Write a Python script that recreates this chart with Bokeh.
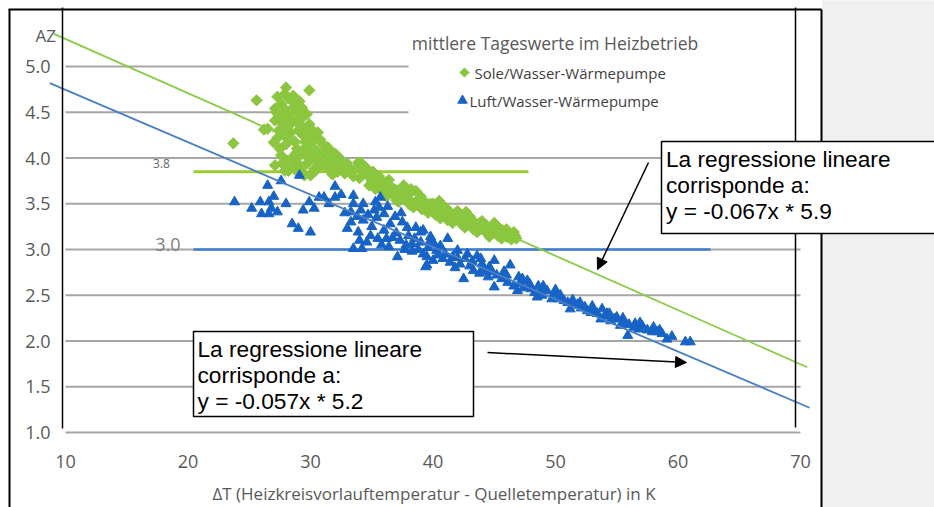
from bokeh.plotting import figure
from bokeh.models import Range1d, Arrow, NormalHead
from bokeh.core.properties import value
from bokeh.embed import file_html
from bokeh.resources import INLINE

# ---------------- data ----------------
x_ticks = [10, 20, 30, 40, 50, 60, 70]
y_ticks = [1.0, 1.5, 2.0, 2.5, 3.0, 3.5, 4.0, 4.5, 5.0]
y_tick_labels = ["1.0", "1.5", "2.0", "2.5", "3.0", "3.5", "4.0", "4.5", "5.0"]

# Sole/Wasser-Waermepumpe (green diamonds)
sole_x = [23.7, 25.6, 28.0, 29.9, 27.3, 28.2, 27.6, 27.1, 28.5, 28.9, 27.4, 28.1, 29.4, 27.8,
          28.5, 29.2, 29.9, 27.1, 26.5, 26.2, 27.0, 27.8, 28.4, 29.3, 30.4, 30.0, 28.9, 27.6,
          28.1, 28.9, 29.7, 30.5, 31.4, 30.8, 31.9, 32.3, 33.0, 33.9, 30.0, 31.6, 27.7, 27.1,
          29.2, 29.5, 28.4, 29.6, 28.7, 29.0, 28.3, 29.6, 27.5, 28.8, 30.2, 31.0, 30.6, 31.2,
          32.0, 32.6, 33.4, 28.6, 27.9, 30.4, 31.8, 32.8, 29.3, 28.0, 27.4, 30.6, 29.5, 31.0,
          32.0, 34.1, 33.5, 34.4, 34.0,
          27.9, 28.6, 29.1, 27.2, 28.0, 29.7, 28.3, 27.7, 28.8, 29.6, 30.2, 27.3, 28.0, 28.7,
          29.9, 30.8, 31.4, 29.1, 30.0, 31.6, 32.5, 30.3, 31.3, 32.2, 33.0, 33.8, 34.5, 29.0,
          28.2,
          34.6, 35.0, 35.2, 35.4, 35.7, 35.9, 36.3, 36.6, 36.8, 37.1, 37.3, 37.5, 37.8, 38.0,
          38.2, 38.6, 38.8, 39.0, 39.3, 39.5, 39.8, 40.0, 40.3, 40.5, 40.8, 41.0, 41.3, 41.6,
          41.9, 42.2, 42.4, 42.7, 42.9, 43.2, 43.5, 43.8, 44.0, 44.3, 44.6, 44.9, 45.2, 45.4,
          45.7, 46.0, 46.3, 46.6, 46.8, 36.0, 37.0, 38.4, 39.6, 40.6, 41.6, 42.6, 43.6, 44.6,
          45.6, 34.8, 35.6, 36.4, 37.6, 38.2, 39.0, 40.0, 41.0, 42.0, 43.0, 44.0, 45.0, 46.0,
          35.3, 36.2, 37.2, 38.1, 39.1, 40.2, 41.2, 42.3, 43.3, 44.4, 45.3, 46.4,
          35.1, 35.8, 36.5, 37.3, 38.0, 38.7, 39.4, 40.1, 40.9, 41.5, 42.1, 42.8, 43.4, 44.1,
          44.8, 45.5, 46.2, 46.7]
sole_y = [4.16, 4.63, 4.77, 4.74, 4.67, 4.65, 4.59, 4.54, 4.54, 4.50, 4.45, 4.43, 4.45, 4.47,
          4.39, 4.36, 4.37, 4.41, 4.32, 4.31, 4.17, 4.25, 4.28, 4.26, 4.21, 4.14, 4.10, 4.03,
          3.97, 3.95, 3.94, 4.08, 4.01, 3.92, 3.95, 4.01, 3.94, 3.95, 3.81, 3.86, 3.94, 3.92,
          3.88, 3.81, 3.99, 4.03, 4.60, 4.30, 4.20, 4.18, 4.10, 4.05, 4.00, 4.05, 3.97, 3.90,
          3.88, 3.90, 3.86, 3.90, 3.86, 3.86, 3.82, 3.83, 4.55, 4.35, 4.30, 4.28, 4.10, 4.15,
          4.05, 3.95, 3.80, 3.85, 3.78,
          4.70, 4.68, 4.62, 4.50, 4.52, 4.48, 4.47, 4.38, 4.40, 4.30, 4.30, 4.22, 4.15, 4.18,
          4.22, 4.20, 4.12, 4.02, 4.05, 4.08, 3.96, 3.88, 3.95, 3.85, 3.88, 3.90, 3.90, 3.84,
          3.86,
          3.82, 3.75, 3.78, 3.70, 3.66, 3.74, 3.70, 3.62, 3.66, 3.61, 3.58, 3.66, 3.55, 3.60,
          3.52, 3.64, 3.55, 3.48, 3.52, 3.45, 3.50, 3.42, 3.46, 3.53, 3.40, 3.36, 3.42, 3.35,
          3.38, 3.31, 3.36, 3.41, 3.28, 3.32, 3.25, 3.29, 3.22, 3.27, 3.20, 3.24, 3.26, 3.17,
          3.21, 3.14, 3.17, 3.19, 3.12, 3.62, 3.54, 3.46, 3.40, 3.34, 3.29, 3.24, 3.19, 3.14,
          3.12, 3.70, 3.80, 3.76, 3.70, 3.66, 3.58, 3.50, 3.46, 3.42, 3.36, 3.31, 3.29, 3.22,
          3.66, 3.58, 3.52, 3.49, 3.44, 3.38, 3.32, 3.28, 3.22, 3.18, 3.15, 3.11,
          3.85, 3.71, 3.69, 3.64, 3.55, 3.50, 3.47, 3.45, 3.37, 3.39, 3.35, 3.31, 3.29, 3.25,
          3.21, 3.22, 3.13, 3.15]

# Luft/Wasser-Waermepumpe (blue triangles)
luft_x = [23.8, 25.9, 26.6, 26.5, 27.6, 29.1, 26.0, 26.6, 27.3, 29.4, 29.9, 30.7, 31.1, 32.0,
          32.0, 28.5, 29.0, 30.0, 33.5, 33.5, 34.3, 33.3, 34.1, 35.2, 35.7, 35.6, 33.3, 34.3,
          35.4, 36.0, 33.0, 33.9, 34.9, 36.0, 36.7, 37.5, 37.9, 38.6, 39.2, 37.3, 38.3, 39.0,
          39.8, 33.5, 34.2, 36.4, 37.7, 37.1, 38.3, 39.5, 39.4, 40.3,
          35.0, 36.5, 34.6, 35.8, 37.0, 38.0, 38.8, 36.9, 39.0, 39.8, 40.6, 41.2, 40.0,
          25.2, 26.8, 27.0, 28.0, 30.3, 31.5, 32.5, 32.8, 33.8, 34.7, 35.3, 36.3, 36.2, 37.4,
          37.8, 38.5, 39.6, 40.1, 34.0, 35.5,
          39.2, 39.5, 42.0, 42.8, 43.6, 45.0, 46.3, 42.5, 43.3, 44.1, 45.2, 46.1, 47.1, 47.7,
          48.8, 49.9, 49.7, 50.7, 51.5, 52.6, 53.4, 53.7, 54.5, 55.3, 56.4, 55.9, 57.5, 58.3,
          59.1, 60.6, 61.0, 48.0, 45.0, 46.9, 48.5, 51.2,
          40.8, 41.4, 41.8, 42.2, 43.0, 43.8, 44.5, 44.8, 45.6, 46.0, 46.6, 47.4, 47.9, 48.3,
          48.9, 49.3, 50.2, 50.4, 51.0, 51.8, 52.1, 52.9, 53.1, 54.0, 54.2, 54.8, 55.6, 56.0,
          56.8, 57.1, 57.9, 58.7, 59.5, 42.0, 43.2, 44.0, 44.6, 41.0, 40.4, 47.0, 49.0, 50.0,
          52.0, 53.0, 54.4, 55.0, 56.5, 58.0,
          41.6, 42.6, 43.9, 44.2, 45.8, 47.3, 48.6, 50.1, 51.4, 52.4, 53.8, 55.5, 56.9, 58.5]
luft_y = [3.52, 3.52, 3.52, 3.70, 3.75, 3.81, 3.39, 3.39, 3.41, 3.43, 3.52, 3.57, 3.57, 3.69,
          3.57, 3.28, 3.23, 3.19, 3.59, 3.50, 3.50, 3.41, 3.43, 3.43, 3.57, 3.46, 3.30, 3.32,
          3.35, 3.39, 3.23, 3.19, 3.15, 3.21, 3.13, 3.30, 3.24, 3.24, 3.21, 3.10, 3.06, 3.08,
          3.10, 3.01, 3.01, 3.03, 3.00, 2.92, 2.98, 2.92, 2.81, 2.99,
          3.25, 3.28, 3.08, 3.05, 3.18, 3.15, 3.00, 3.36, 3.19, 3.14, 3.04, 3.12, 2.88,
          3.45, 3.45, 3.58, 3.50, 3.45, 3.50, 3.60, 3.40, 3.36, 3.38, 3.52, 3.47, 3.12, 3.40,
          3.05, 3.12, 3.02, 3.06, 3.10, 3.12,
          2.95, 2.83, 2.99, 2.95, 2.93, 2.88, 2.83, 2.68, 2.77, 2.79, 2.72, 2.64, 2.63, 2.66,
          2.55, 2.52, 2.46, 2.44, 2.39, 2.33, 2.30, 2.24, 2.22, 2.17, 2.15, 2.06, 2.12, 2.10,
          2.02, 1.99, 1.99, 2.57, 2.59, 2.55, 2.48, 2.35,
          2.90, 2.86, 2.80, 2.84, 2.82, 2.74, 2.70, 2.76, 2.68, 2.72, 2.60, 2.58, 2.62, 2.53,
          2.50, 2.55, 2.46, 2.50, 2.42, 2.40, 2.36, 2.31, 2.34, 2.27, 2.30, 2.24, 2.20, 2.18,
          2.13, 2.16, 2.10, 2.08, 2.05, 2.91, 2.87, 2.84, 2.81, 2.95, 2.94, 2.70, 2.60, 2.56,
          2.42, 2.38, 2.30, 2.26, 2.19, 2.15,
          2.92, 2.90, 2.90, 2.76, 2.76, 2.68, 2.60, 2.53, 2.45, 2.37, 2.35, 2.25, 2.20, 2.12]

# regression lines (end points as drawn)
sole_fit_x = [9.05, 70.55]
sole_fit_y = [5.357, 1.713]
luft_fit_x = [8.72, 70.74]
luft_fit_y = [4.818, 1.270]

# reference levels
sole_level, sole_level_x = 3.85, [20.45, 47.8]
luft_level, luft_level_x = 3.0, [20.45, 62.65]

# ---------------- geometry ----------------
W, H = 934, 507
PXU = 12.25   # pixels per x unit
PYU = 91.5    # pixels per y unit
def X(px):    # page pixel -> data x
    return 10 + (px - 65) / PXU
def Y(py):    # page pixel -> data y
    return 1 + (432 - py) / PYU

GREEN = "#8cc63f"
BLUE = "#1763c6"
TXT = "#595959"
SEGOE = value("Open Sans")
ARIAL = value("Liberation Sans")

p = figure(width=W, height=H, x_range=Range1d(X(0), X(W)),
           y_range=Range1d(Y(H), Y(0)), output_backend="svg",
           toolbar_location=None, x_axis_location=None, y_axis_location=None,
           min_border=0, tools="")
p.grid.visible = False
p.outline_line_color = None
p.background_fill_color = "white"
p.border_fill_color = "white"

# gray page area on the right
p.quad(left=[X(821.5)], right=[X(950)], top=[Y(-5)], bottom=[Y(520)],
       fill_color="#f0f0f0", line_color=None)

# horizontal grid lines (two upper ones stop at the legend)
grid_end = [70 if t < 4.4 else X(408) for t in y_ticks]
p.segment(x0=[10] * len(y_ticks), x1=grid_end, y0=y_ticks, y1=y_ticks,
          line_color="#a6a6a6", line_width=2)

# reference levels
p.segment(x0=[sole_level_x[0]], x1=[sole_level_x[1]], y0=[sole_level], y1=[sole_level],
          line_color="#9acd32", line_width=3)
p.segment(x0=[luft_level_x[0]], x1=[luft_level_x[1]], y0=[luft_level], y1=[luft_level],
          line_color="#3c7dd0", line_width=2.5)
p.text(x=[X(161)], y=[Y(163)], text=["3.8"], text_font=SEGOE, text_font_size="12px",
       text_color="#666666", text_align="center", text_baseline="middle")
p.text(x=[X(167.5)], y=[Y(244)], text=["3.0"], text_font=SEGOE, text_font_size="18px",
       text_color="#7f7f7f", text_align="center", text_baseline="middle")

# scatter
p.scatter(sole_x, sole_y, marker="square", angle=0.785398, size=8,
          fill_color=GREEN, line_color=GREEN)
p.scatter(luft_x, luft_y, marker="triangle", size=10, fill_color=BLUE, line_color=BLUE)

# regression lines
p.line(sole_fit_x, sole_fit_y, line_color="#86cc45", line_width=1.8)
p.line(luft_fit_x, luft_fit_y, line_color="#4a7fc3", line_width=1.8)

# tick labels and axis texts
p.text(x=x_ticks, y=[Y(460.5)] * len(x_ticks), text=[str(t) for t in x_ticks],
       text_font=SEGOE, text_font_size="18px", text_color=TXT,
       text_align="center", text_baseline="middle")
p.text(x=[X(50)] * len(y_ticks), y=y_ticks, text=y_tick_labels,
       text_font=SEGOE, text_font_size="18px", text_color=TXT,
       text_align="right", text_baseline="middle")
p.text(x=[X(55.5)], y=[Y(35)], text=["AZ"], text_font=SEGOE, text_font_size="17px",
       text_color=TXT, text_align="right", text_baseline="middle")
p.text(x=[X(433.5)], y=[Y(493)],
       text=["\u0394T (Heizkreisvorlauftemperatur - Quelletemperatur) in K"],
       text_font=SEGOE, text_font_size="17px", text_color=TXT,
       text_align="center", text_baseline="middle")

# legend
p.text(x=[X(554.5)], y=[Y(42)], text=["mittlere Tageswerte im Heizbetrieb"],
       text_font=SEGOE, text_font_size="17.5px", text_color=TXT,
       text_align="center", text_baseline="middle")
p.scatter([X(464)], [Y(72)], marker="square", angle=0.785398, size=6.5,
          fill_color=GREEN, line_color=GREEN)
p.scatter([X(462)], [Y(100)], marker="triangle", size=9.5, fill_color=BLUE, line_color=BLUE)
p.text(x=[X(474), X(469)], y=[Y(72), Y(100)],
       text=["Sole/Wasser-W\u00e4rmepumpe", "Luft/Wasser-W\u00e4rmepumpe"],
       text_font=SEGOE, text_font_size="15px", text_color="#404040",
       text_align="left", text_baseline="middle")

# inner vertical frame lines of the pasted chart
p.segment(x0=[X(62), X(795)], x1=[X(62), X(795)], y0=[Y(7), Y(7)], y1=[Y(428), Y(427)],
          line_color="black", line_width=1.5)

# outer frame
p.segment(x0=[X(9), X(8), X(821)], x1=[X(9), X(821), X(821)],
          y0=[Y(9), Y(9), Y(9)], y1=[Y(520), Y(9), Y(520)],
          line_color="black", line_width=2)

# annotation boxes
p.quad(left=[X(661), X(193)], right=[X(950), X(473)], top=[Y(141), Y(331)],
       bottom=[Y(233), Y(416)], fill_color="white", line_color="black", line_width=1.5)
lines1 = ["La regressione lineare", "corrisponde a:", "y = -0.067x * 5.9"]
lines2 = ["La regressione lineare", "corrisponde a:", "y = -0.057x * 5.2"]
p.text(x=[X(665.5)] * 3, y=[Y(141 + 17.6 + 26 * i) for i in range(3)], text=lines1,
       text_font=ARIAL, text_font_size="22.7px", text_color="black",
       text_align="left", text_baseline="middle")
p.text(x=[X(197)] * 3, y=[Y(331 + 17.6 + 26 * i) for i in range(3)], text=lines2,
       text_font=ARIAL, text_font_size="22.7px", text_color="black",
       text_align="left", text_baseline="middle")

# arrows
p.add_layout(Arrow(end=NormalHead(size=11, fill_color="black", line_color="black"),
                   x_start=X(648), y_start=Y(162), x_end=X(597), y_end=Y(269),
                   line_color="black", line_width=1.5))
p.add_layout(Arrow(end=NormalHead(size=11, fill_color="black", line_color="black"),
                   x_start=X(487), y_start=Y(352), x_end=X(686), y_end=Y(362),
                   line_color="black", line_width=1.5))

open("out.html", "w").write(file_html(p, INLINE))
